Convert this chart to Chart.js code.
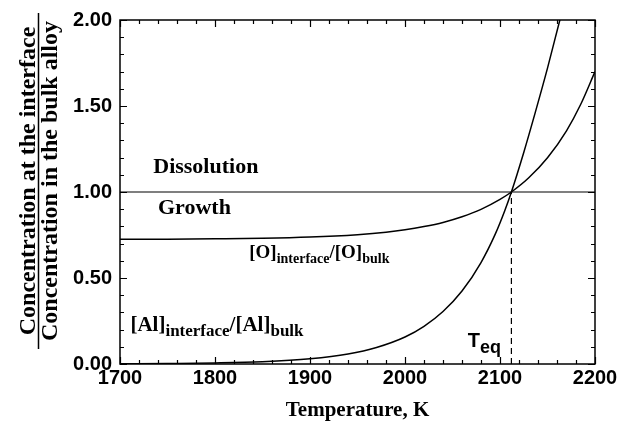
<!DOCTYPE html>
<html><head><meta charset="utf-8">
<script src="https://cdn.jsdelivr.net/npm/chart.js@4/dist/chart.umd.min.js"></script>
<style>html,body{margin:0;padding:0;background:#fff;}#wrap{width:631px;height:431px;}</style>
</head><body><div id="wrap"><canvas id="c" width="631" height="431"></canvas></div>
<script>
// ---- data ----
const oTemperatures = [1700, 1750, 1800, 1850, 1900, 1950, 1980, 2000, 2020, 2040, 2060, 2080, 2100, 2112, 2130, 2150, 2170, 2185, 2200];
const oRatio        = [0.725, 0.726, 0.728, 0.731, 0.738, 0.752, 0.766, 0.780, 0.799, 0.823, 0.856, 0.899, 0.957, 1.000, 1.081, 1.199, 1.356, 1.510, 1.700];
const alTemperatures = [1700, 1750, 1800, 1850, 1900, 1940, 1970, 2000, 2020, 2040, 2060, 2080, 2095, 2105, 2112, 2125, 2137, 2150, 2163, 2175];
const alRatio        = [0.001, 0.003, 0.006, 0.013, 0.030, 0.058, 0.096, 0.157, 0.219, 0.305, 0.424, 0.590, 0.755, 0.891, 1.000, 1.230, 1.460, 1.720, 2.000, 2.250];
const xTickValues = [1700, 1800, 1900, 2000, 2100, 2200];
const yTickValues = [0.00, 0.50, 1.00, 1.50, 2.00];
const unityLevel = 1.0;
const teq = 2112;

const SERIF = '"Liberation Serif", "Times New Roman", serif';
const SANS = '"Liberation Sans", Arial, sans-serif';

function pts(xs, ys) { return xs.map((x, i) => ({x: x, y: ys[i]})); }

function drawSub(ctx, x, y, parts, mainFont, subFont, subDrop) {
  let cx = x;
  ctx.textBaseline = 'alphabetic';
  ctx.textAlign = 'left';
  for (const p of parts) {
    ctx.font = p.sub ? subFont : mainFont;
    ctx.fillText(p.t, cx, p.sub ? y + subDrop : y);
    cx += ctx.measureText(p.t).width;
  }
}

const decor = {
  id: 'decor',
  afterDatasetsDraw(chart) {
    const ctx = chart.ctx;
    const a = chart.chartArea;
    const xs = chart.scales.x, ys = chart.scales.y;
    ctx.save();
    ctx.strokeStyle = '#000';
    ctx.fillStyle = '#000';
    // frame
    ctx.lineWidth = 1.5;
    ctx.strokeRect(a.left, a.top, a.right - a.left, a.bottom - a.top);
    // ticks, inward, all sides
    ctx.lineWidth = 1.2;
    ctx.beginPath();
    for (let v = 1700; v <= 2200; v += 20) {
      const px = Math.round(xs.getPixelForValue(v)) + 0.5;
      const len = (v % 100 === 0) ? 7 : 4;
      ctx.moveTo(px, a.bottom); ctx.lineTo(px, a.bottom - len);
      ctx.moveTo(px, a.top); ctx.lineTo(px, a.top + len);
    }
    for (let k = 0; k <= 20; k++) {
      const v = k / 10;
      const py = Math.round(ys.getPixelForValue(v)) + 0.5;
      const len = (k % 5 === 0) ? 7 : 4;
      ctx.moveTo(a.left, py); ctx.lineTo(a.left + len, py);
      ctx.moveTo(a.right, py); ctx.lineTo(a.right - len, py);
    }
    ctx.stroke();

    // region labels
    const P = (t, v) => [xs.getPixelForValue(t), ys.getPixelForValue(v)];
    ctx.textAlign = 'left';
    ctx.textBaseline = 'alphabetic';
    ctx.font = 'bold 22px ' + SERIF;
    let p = P(1735, 1.109);
    ctx.fillText('Dissolution', p[0], p[1]);
    p = P(1740, 0.874);
    ctx.fillText('Growth', p[0], p[1]);

    p = P(1836, 0.615);
    drawSub(ctx, p[0], p[1], [
      {t: '[O]'}, {t: 'interface', sub: true}, {t: '/[O]'}, {t: 'bulk', sub: true}
    ], 'bold 19px ' + SERIF, 'bold 14px ' + SERIF, 5);

    p = P(1711, 0.19);
    drawSub(ctx, p[0], p[1], [
      {t: '[Al]'}, {t: 'interface', sub: true}, {t: '/[Al]'}, {t: 'bulk', sub: true}
    ], 'bold 21px ' + SERIF, 'bold 17px ' + SERIF, 5);

    p = P(2066, 0.097);
    drawSub(ctx, p[0], p[1], [
      {t: 'T'}, {t: 'eq', sub: true}
    ], 'bold 20px ' + SANS, 'bold 18px ' + SANS, 6);

    // x title
    ctx.font = 'bold 21px ' + SERIF;
    ctx.textAlign = 'center';
    ctx.fillText('Temperature, K', (a.left + a.right) / 2, 416);

    // y title as fraction, rotated
    ctx.save();
    ctx.translate(0, 181);
    ctx.rotate(-Math.PI / 2);
    ctx.font = 'bold 24px ' + SERIF;
    ctx.textAlign = 'center';
    ctx.fillText('Concentration at the interface', 0, 35);
    ctx.fillText('Concentration in the bulk alloy', 0, 57);
    ctx.lineWidth = 1.5;
    ctx.beginPath();
    ctx.moveTo(-168, 38.5); ctx.lineTo(168, 38.5);
    ctx.stroke();
    ctx.restore();

    ctx.restore();
  }
};

new Chart(document.getElementById('c'), {
  type: 'line',
  data: {
    datasets: [
      { data: pts(oTemperatures, oRatio), borderColor: '#000', borderWidth: 1.5, pointRadius: 0, cubicInterpolationMode: 'monotone', fill: false },
      { data: pts(alTemperatures, alRatio), borderColor: '#000', borderWidth: 1.5, pointRadius: 0, cubicInterpolationMode: 'monotone', fill: false },
      { data: [{x: xTickValues[0], y: unityLevel}, {x: xTickValues[xTickValues.length - 1], y: unityLevel}], borderColor: '#000', borderWidth: 1.2, pointRadius: 0, fill: false },
      { data: [{x: teq, y: 0}, {x: teq, y: unityLevel}], borderColor: '#000', borderWidth: 1.2, borderDash: [6, 4], pointRadius: 0, fill: false }
    ]
  },
  options: {
    responsive: false,
    devicePixelRatio: 1,
    animation: false,
    events: [],
    layout: { padding: { left: 0, right: 36, top: 16, bottom: 0 } },
    plugins: { legend: { display: false }, tooltip: { enabled: false } },
    scales: {
      x: {
        type: 'linear', min: 1700, max: 2200,
        afterBuildTicks: s => { s.ticks = xTickValues.map(v => ({value: v})); },
        afterFit: s => { s.height = 67; },
        grid: { display: false, drawTicks: false },
        border: { display: false },
        ticks: { color: '#000', padding: 2, maxRotation: 0, callback: v => String(v), font: { family: SANS, size: 20, weight: 'bold' } }
      },
      y: {
        type: 'linear', min: 0, max: 2,
        afterBuildTicks: s => { s.ticks = yTickValues.map(v => ({value: v})); },
        afterFit: s => { s.width = 120; },
        grid: { display: false, drawTicks: false },
        border: { display: false },
        ticks: { color: '#000', padding: 8, callback: v => Number(v).toFixed(2), font: { family: SANS, size: 20, weight: 'bold' } }
      }
    }
  },
  plugins: [decor]
});
</script>
</body></html>
